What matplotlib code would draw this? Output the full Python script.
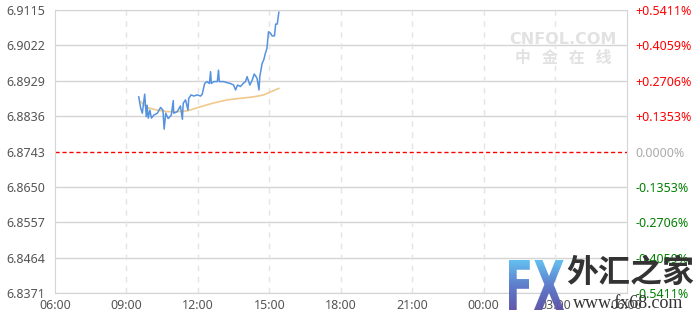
import matplotlib
matplotlib.use('Agg')
import numpy as np
import matplotlib.pyplot as plt
from matplotlib.textpath import TextPath
from matplotlib.patches import PathPatch
from matplotlib.font_manager import FontProperties
from matplotlib.transforms import Affine2D

# price line, times as HH:MM
price_times = ['09:31', '09:36', '09:40', '09:46', '09:50', '09:52', '09:55', '09:59', '10:03', '10:09',
               '10:18', '10:26', '10:32', '10:35', '10:39', '10:45', '10:53', '10:58', '10:59', '11:08',
               '11:16', '11:21', '11:23', '11:29', '11:35', '11:37', '11:43', '11:50', '11:58', '12:07',
               '12:11', '12:17', '12:23', '12:29', '12:32', '12:34', '12:40', '12:49', '12:52', '12:54',
               '13:05', '13:14', '13:22', '13:30', '13:35', '13:40', '13:47', '13:54', '14:00', '14:04',
               '14:11', '14:17', '14:22', '14:29', '14:34', '14:36', '14:42', '14:46', '14:50', '14:54',
               '14:58', '15:03', '15:07', '15:13', '15:16', '15:20', '15:24']
price_vals = [6.8887, 6.8857, 6.8844, 6.8894, 6.8835, 6.8865, 6.8831, 6.8852, 6.8831, 6.8839,
              6.8844, 6.8859, 6.8852, 6.8802, 6.8844, 6.8830, 6.8839, 6.8877, 6.8844, 6.8848,
              6.8863, 6.8828, 6.8870, 6.8879, 6.8852, 6.8883, 6.8892, 6.8889, 6.8892, 6.8889,
              6.8894, 6.8922, 6.8927, 6.8922, 6.8953, 6.8922, 6.8927, 6.8927, 6.8957, 6.8927,
              6.8927, 6.8924, 6.8922, 6.8918, 6.8905, 6.8918, 6.8914, 6.8922, 6.8927, 6.8940,
              6.8918, 6.8931, 6.8947, 6.8936, 6.8905, 6.8940, 6.8975, 6.8984, 6.9001, 6.9014,
              6.9058, 6.9054, 6.9047, 6.9047, 6.9078, 6.9078, 6.9109]

# average line
avg_times = ['09:36', '09:52', '10:18', '10:43', '11:08', '11:33', '12:07', '12:40', '13:14',
             '13:47', '14:21', '14:46', '15:03', '15:24']
avg_vals = [6.8874, 6.8859, 6.8852, 6.8848, 6.8848, 6.8850, 6.8861, 6.8871, 6.8879,
            6.8883, 6.8887, 6.8892, 6.8900, 6.8909]

base = 6.8743
left_ticks = [6.8371, 6.8464, 6.8557, 6.8650, 6.8743, 6.8836, 6.8929, 6.9022, 6.9115]
right_labels = ['-0.5411%', '-0.4059%', '-0.2706%', '-0.1353%', '0.0000%',
                '+0.1353%', '+0.2706%', '+0.4059%', '+0.5411%']
x_labels = ['06:00', '09:00', '12:00', '15:00', '18:00', '21:00', '00:00', '03:00', '06:00']


def to_min(s):
    h, m = s.split(':')
    return (int(h) - 6) * 60 + int(m)


W, H = 696, 313
fig = plt.figure(figsize=(W / 100, H / 100), dpi=100)
ax = fig.add_axes([55 / W, 1 - 293.3 / H, 571.5 / W, 283.3 / H])

grid_c = '#d4d4d4'
for v in left_ticks:
    if v != base:
        ax.axhline(v, color=grid_c, lw=1, zorder=1)
for i in range(1, 8):
    ax.axvline(i * 180, color='#e4e4e4', lw=1, ls=(0, (4, 4)), zorder=1)
ax.axhline(base, color='#ff0000', lw=1, ls=(0, (3, 2)), zorder=2)

ax.plot([to_min(t) for t in avg_times], avg_vals, color='#f0c98c', lw=1.2, zorder=3)
ax.plot([to_min(t) for t in price_times], price_vals, color='#5592e0', lw=1.1, zorder=4)

ax.set_xlim(0, 1440)
ax.set_ylim(left_ticks[0], left_ticks[-1])
for s in ax.spines.values():
    s.set_color(grid_c)
ax.set_yticks(left_ticks)
ax.set_yticklabels(['%.4f' % v for v in left_ticks], fontsize=9, color='#555555', family='Noto Sans')
ax.set_xticks(range(0, 1441, 180))
ax.set_xticklabels(x_labels, fontsize=9, color='#555555', family='Noto Sans')
ax.tick_params(axis='y', length=0, pad=7)
ax.tick_params(axis='x', length=0, pad=4)

ax2 = ax.twinx()
ax2.set_ylim(left_ticks[0], left_ticks[-1])
ax2.set_yticks(left_ticks)
ax2.set_yticklabels(right_labels, fontsize=9, family='Noto Sans')
ax2.tick_params(length=0, pad=6.5)
for lab in ax2.get_yticklabels():
    t = lab.get_text()
    lab.set_color('#ff0000' if t.startswith('+') else ('#008000' if t.startswith('-') else '#aaaaaa'))
for s in ax2.spines.values():
    s.set_visible(False)

# cnfol watermark
fig.text(563 / W, 1 - 39 / H, 'CNFOL.COM', fontsize=11.5, fontweight='bold', color='#e2e2e2',
         ha='center', va='center', zorder=0)
fig.text(563 / W, 1 - 58 / H, '中   金   在   线', fontsize=11.5, fontweight='bold', color='#e2e2e2',
         ha='center', va='center', family=['Noto Sans CJK SC', 'DejaVu Sans'], zorder=0)

# fx68 logo, overlay axes in pixel coords
ov = fig.add_axes([0, 0, 1, 1], zorder=10)
ov.axis('off')
tp = TextPath((0, 0), 'FX', size=1, prop=FontProperties(family='DejaVu Sans', weight='bold'))
ext = tp.get_extents()
x0, x1, y0, y1 = 509, 564, 260, 310
tr = Affine2D().translate(-ext.x0, -ext.y0).scale((x1 - x0) / ext.width, -(y1 - y0) / ext.height).translate(x0, y1)
patch = PathPatch(tr.transform_path(tp), facecolor='none', edgecolor='none')
ov.add_patch(patch)
grad = np.linspace(0, 1, 100).reshape(-1, 1)
img = ov.imshow(grad, cmap=matplotlib.colors.LinearSegmentedColormap.from_list('fx', ['#5cbdf0', '#5577c8', '#5a4fa8']),
                extent=[x0, x1, y1, y0], aspect='auto', alpha=0.95)
img.set_clip_path(patch)
ov.set_xlim(0, W)
ov.set_ylim(H, 0)
ov.text(630, 273, '外汇之家', fontsize=23, fontweight='bold', color='#333333',
        ha='center', va='center', family=['Noto Sans CJK SC', 'DejaVu Sans'])
ov.text(628, 304, 'www.fx68.com', fontsize=13, color='#333333',
        ha='center', va='center', family='Liberation Serif')

fig.savefig('out.png', dpi=100)
